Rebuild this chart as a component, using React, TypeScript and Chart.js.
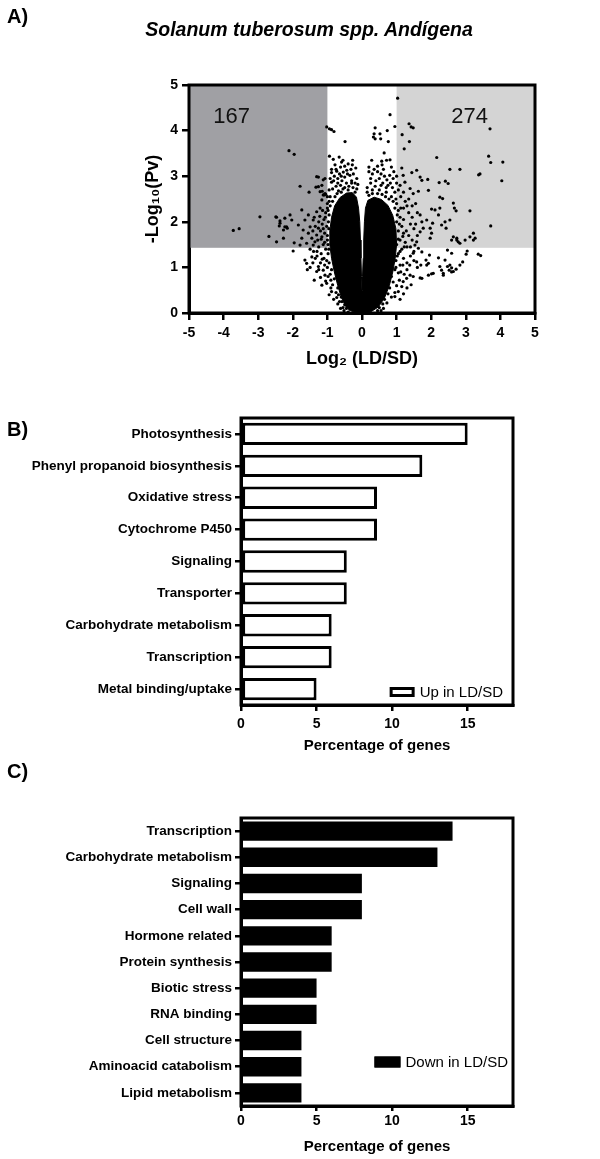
import { useEffect, useRef } from 'react';
import { Chart, registerables } from 'chart.js';

Chart.register(...registerables);

const FONT = '"Liberation Sans", Arial, Helvetica, sans-serif';

// ---------------- Panel A : volcano plot ----------------
const volcanoXTicks = [-5, -4, -3, -2, -1, 0, 1, 2, 3, 4, 5];
const volcanoYTicks = [0, 1, 2, 3, 4, 5];
const foldThreshold = 1;
const pvThreshold = 1.43;
const countLabels = ['167', '274'];
const countLabelX = [-3.77, 3.11];
const countLabelY = [4.31, 4.31];

// outline of the saturated (solid black) centre of the point cloud
const coreOutline: [number, number][] = [
  [0, 0], [-0.28, 0.03], [-0.48, 0.15], [-0.6, 0.35], [-0.7, 0.6], [-0.8, 0.9], [-0.88, 1.2],
  [-0.93, 1.5], [-0.93, 1.8], [-0.88, 2.1], [-0.79, 2.35], [-0.64, 2.53], [-0.45, 2.63], [-0.28, 2.64],
  [-0.16, 2.54], [-0.1, 2.3], [-0.065, 2.0], [-0.045, 1.6], [-0.03, 1.2], [-0.015, 0.8], [0, 0.5],
  [0.015, 0.8], [0.035, 1.2], [0.05, 1.6], [0.07, 2.0], [0.1, 2.3], [0.17, 2.47], [0.35, 2.54],
  [0.56, 2.49], [0.75, 2.36], [0.89, 2.14], [0.98, 1.85], [1.0, 1.5], [0.96, 1.2], [0.89, 0.9],
  [0.79, 0.6], [0.65, 0.33], [0.47, 0.13], [0.26, 0.03], [0, 0],
];

// genes with negative fold change
const downGenes: [number, number][] = [
  [-1.02, 4.08], [-0.94, 4.04], [-0.88, 4.02], [-0.81, 3.98], [-0.49, 3.76], [-2.11, 3.56], [-1.96, 3.48],
  [-0.94, 3.44], [-0.66, 3.42], [-0.83, 3.37], [-0.59, 3.31], [-0.4, 3.27], [-0.27, 3.35], [-0.88, 3.15],
  [-0.88, 3.08], [-0.73, 3.11], [-0.54, 3.09], [-0.44, 3.13], [-0.18, 3.18], [-0.15, 2.95], [-1.26, 2.98],
  [-1.07, 2.95], [-1.79, 2.78], [-1.33, 2.76], [-1.16, 2.8], [-1.53, 2.65], [-1.15, 2.67], [-1.09, 2.59],
  [-0.88, 2.87], [-1.31, 2.99], [-1.26, 2.77], [-1.21, 2.66], [-1.12, 2.92], [-1.07, 2.62], [-1.12, 2.59],
  [-1.16, 2.48],
  [-0.8, 3.0], [-0.7, 2.95], [-0.6, 3.0], [-0.5, 2.98], [-0.35, 3.02], [-0.25, 3.05], [-0.2, 2.85],
  [-0.3, 2.9], [-0.45, 2.85], [-0.62, 2.8], [-0.75, 2.78], [-0.85, 2.72], [-0.95, 2.7], [-0.55, 2.72],
  [-0.4, 2.7], [-0.15, 2.72], [-0.68, 2.68], [-0.32, 3.15], [-0.62, 3.2], [-0.5, 3.22], [-0.78, 3.25],
  [-0.12, 2.82],
  [-3.72, 1.81], [-3.55, 1.85], [-2.95, 2.11], [-2.69, 1.68], [-2.49, 2.11], [-2.37, 2.02], [-2.23, 2.08],
  [-2.47, 1.56], [-2.27, 1.64], [-2.39, 1.91], [-2.23, 1.89], [-2.16, 1.86], [-2.08, 2.15], [-2.03, 2.04],
  [-1.96, 1.54], [-1.99, 1.36], [-1.74, 2.26], [-1.84, 1.93], [-1.7, 1.82], [-1.74, 1.64], [-1.79, 1.49],
  [-1.65, 2.04], [-1.55, 2.15], [-1.5, 1.89], [-1.41, 2.04], [-1.31, 2.22], [-1.26, 1.86], [-1.21, 2.3],
  [-1.55, 1.75], [-1.45, 1.64], [-1.36, 1.56], [-1.31, 1.71], [-1.16, 1.67], [-1.6, 1.53], [-1.41, 1.49],
  [-2.27, 1.82], [-2.18, 1.89], [-2.37, 1.97], [-2.47, 2.1],
  [-1.65, 1.16], [-1.6, 1.09], [-1.45, 1.23], [-1.26, 1.02], [-1.31, 0.91], [-1.16, 0.61], [-1.07, 0.83],
  [-0.88, 0.47], [-0.73, 0.34], [-0.9, 0.72], [-1.12, 0.94],
  [-1.0, 2.4], [-1.05, 2.2], [-1.1, 2.05], [-0.98, 2.25], [-1.02, 1.9], [-1.15, 1.95], [-1.2, 1.8],
  [-1.08, 1.75], [-1.0, 1.6], [-1.12, 1.5], [-1.25, 1.45], [-1.05, 1.4], [-0.98, 1.3], [-1.18, 1.3],
  [-1.3, 1.35], [-1.1, 1.2], [-0.95, 1.1], [-1.0, 1.0], [-0.88, 0.95], [-0.92, 0.85], [-0.8, 0.75],
  [-0.85, 0.62], [-0.7, 0.55], [-0.75, 0.45], [-0.6, 0.35], [-0.65, 0.25], [-0.5, 0.18], [-0.45, 0.1],
  [-0.55, 0.12], [-1.35, 1.2], [-1.2, 1.1], [-1.4, 1.35], [-1.5, 1.4], [-1.0, 2.55], [-0.95, 2.45],
  [-0.92, 2.35], [-1.05, 2.6], [-0.97, 2.0], [-0.96, 1.85], [-1.0, 1.7],
  [-0.95, 0.4], [-0.82, 0.3], [-0.7, 0.2], [-0.62, 0.1], [-0.9, 0.55], [-1.02, 0.65], [-0.98, 0.8],
  [-1.08, 1.05], [-1.02, 1.15], [-1.15, 1.18], [-0.96, 1.4], [-1.08, 1.55], [-1.18, 1.62], [-0.98, 1.5],
  [-1.28, 1.6], [-1.12, 1.85], [-1.06, 2.1], [-1.14, 2.25], [-1.22, 2.12], [-0.95, 2.15], [-1.0, 2.3],
  [-0.92, 2.55], [-0.85, 2.45], [-0.78, 2.55], [-0.72, 2.62], [-0.6, 2.65], [-0.5, 2.75], [-0.38, 2.78],
  [-0.26, 2.75], [-0.2, 2.65], [-0.3, 2.85], [-0.58, 2.9], [-0.7, 2.85], [-0.82, 2.9], [-0.92, 2.95],
  [-0.65, 3.05], [-0.42, 3.05], [-0.28, 3.25], [-0.75, 3.15], [-0.55, 3.35], [-1.35, 1.9], [-1.42, 1.8],
  [-1.38, 2.1], [-1.25, 2.0], [-1.3, 1.25], [-1.42, 1.1], [-1.25, 0.95], [-1.2, 0.78], [-1.05, 0.7],
  [-1.5, 1.0], [-1.58, 0.95], [-1.38, 0.72], [-0.68, 0.4], [-0.58, 0.25], [-0.52, 0.05], [-0.4, 0.02],
  [-0.35, 0.08],
];

// genes with positive fold change
const upGenes: [number, number][] = [
  [1.03, 4.71], [0.81, 4.35], [0.38, 4.06], [0.35, 3.93], [0.33, 3.86], [0.38, 3.82], [0.52, 3.93],
  [0.54, 3.82], [0.73, 4.0], [0.76, 3.76], [0.95, 4.09], [1.16, 3.91], [1.36, 4.15], [1.42, 4.08],
  [1.48, 4.06], [1.37, 3.76], [1.22, 3.6], [0.64, 3.51], [0.71, 3.35], [0.81, 3.36], [0.57, 3.33],
  [2.16, 3.41], [3.7, 4.04], [3.66, 3.44], [3.72, 3.3], [4.07, 3.31], [4.04, 2.9], [3.41, 3.05],
  [3.37, 3.03], [2.54, 3.15], [2.83, 3.15], [1.15, 3.18], [1.44, 3.08], [1.58, 3.13], [1.68, 2.98],
  [1.73, 2.91], [1.9, 2.93], [2.23, 2.86], [2.41, 2.89], [2.49, 2.84], [1.19, 3.02], [1.24, 2.87],
  [1.39, 2.73], [1.48, 2.62], [1.63, 2.67], [1.92, 2.69], [2.25, 2.54], [2.33, 2.51],
  [0.2, 3.1], [0.3, 3.05], [0.45, 3.1], [0.55, 3.05], [0.65, 3.0], [0.8, 3.02], [0.9, 2.95],
  [0.25, 2.85], [0.4, 2.9], [0.6, 2.85], [0.75, 2.8], [0.88, 2.75], [0.95, 2.65], [0.15, 2.75],
  [0.3, 2.7], [0.5, 2.7], [0.7, 2.65], [0.85, 2.55], [1.0, 2.85], [1.05, 2.7], [0.2, 3.2],
  [0.62, 3.15], [0.45, 3.22], [0.92, 3.1], [1.0, 3.0],
  [3.72, 1.91], [3.12, 2.24], [3.27, 1.64], [3.22, 1.6], [3.04, 1.36], [3.01, 1.29], [3.36, 1.29],
  [3.43, 1.26], [2.83, 1.05], [2.74, 1.64], [2.78, 1.56], [2.98, 1.6], [2.59, 1.6], [2.64, 1.67],
  [2.67, 2.3], [2.72, 2.24], [2.54, 2.04], [2.4, 2.0], [2.3, 1.93], [2.43, 1.86], [2.64, 2.41],
  [2.25, 2.3], [2.21, 2.15], [2.47, 1.38], [2.59, 1.31], [2.4, 1.16], [2.47, 1.02], [2.52, 0.94],
  [2.59, 0.99], [2.72, 0.96], [2.3, 0.94], [2.35, 0.83], [2.01, 0.86], [1.92, 0.83], [1.87, 1.05],
  [1.92, 1.09], [2.21, 1.21], [1.68, 0.77], [1.97, 1.64], [2.01, 1.75], [1.97, 1.86], [2.04, 1.97],
  [2.11, 2.26], [2.01, 2.28], [1.87, 2.04], [1.77, 1.86], [1.68, 1.78], [1.73, 2.0], [1.58, 1.56],
  [1.53, 1.49], [1.63, 1.42], [1.73, 1.34], [1.48, 1.31], [1.39, 0.83], [1.29, 0.76], [1.48, 0.8],
  [1.19, 0.69], [1.15, 0.58], [1.05, 0.47], [0.95, 0.36], [1.95, 1.27], [1.85, 1.16], [1.58, 1.12],
  [1.7, 1.05], [3.12, 1.67], [2.74, 1.6], [2.83, 1.53], [3.22, 1.75], [2.91, 1.12],
  [2.54, 1.05], [2.59, 0.9], [2.64, 0.91], [2.35, 0.87], [2.06, 0.87], [2.25, 1.02], [1.73, 0.76],
  [1.0, 2.4], [1.05, 2.25], [1.1, 2.1], [1.0, 2.0], [1.15, 1.9], [1.05, 1.8], [1.2, 1.75], [1.1, 1.6],
  [1.25, 1.55], [1.0, 1.5], [1.15, 1.4], [1.3, 1.45], [1.05, 1.3], [1.2, 1.2], [0.98, 1.15], [1.1, 1.05],
  [0.95, 0.95], [1.05, 0.88], [0.85, 0.8], [0.9, 0.68], [0.8, 0.55], [0.75, 0.42], [0.65, 0.3],
  [0.6, 0.2], [0.5, 0.12], [0.45, 0.05], [1.35, 2.2], [1.3, 2.35], [1.25, 2.45], [1.4, 1.95],
  [1.45, 2.1], [1.5, 1.85], [1.35, 1.7], [1.4, 1.25], [1.3, 1.1], [1.12, 2.55], [1.2, 2.3], [0.98, 2.5],
  [1.6, 2.2], [1.55, 2.4],
  [0.95, 0.45], [0.85, 0.35], [0.72, 0.22], [0.62, 0.1], [0.55, 0.05], [1.0, 0.6], [1.08, 0.72],
  [1.12, 0.9], [0.98, 1.0], [1.18, 1.05], [1.02, 1.25], [1.1, 1.35], [1.22, 1.45], [1.05, 1.62],
  [1.18, 1.68], [1.28, 1.8], [1.08, 1.95], [1.2, 2.05], [1.02, 2.15], [1.12, 2.3], [0.95, 2.3],
  [0.9, 2.45], [0.78, 2.5], [0.68, 2.55], [0.58, 2.6], [0.45, 2.62], [0.3, 2.62], [0.2, 2.58],
  [0.15, 2.65], [0.38, 2.78], [0.55, 2.8], [0.7, 2.75], [0.82, 2.85], [0.25, 2.95], [0.5, 2.95],
  [0.72, 2.92], [0.35, 3.15], [0.58, 3.25], [0.85, 3.2], [0.28, 3.35], [1.45, 1.6], [1.5, 1.35],
  [1.4, 1.45], [1.6, 1.7], [1.3, 0.95], [1.22, 0.85], [1.38, 1.05], [1.5, 1.15], [1.6, 1.0],
  [1.42, 0.62], [1.3, 0.55], [1.2, 0.42], [1.1, 0.3], [1.55, 1.95], [1.68, 2.15], [1.45, 2.35],
  [1.35, 2.5], [1.2, 2.65], [1.1, 2.8],
];

// ---------------- Panel B ----------------
const upCategories = [
  'Photosynthesis', 'Phenyl propanoid biosynthesis', 'Oxidative stress', 'Cytochrome P450',
  'Signaling', 'Transporter', 'Carbohydrate metabolism', 'Transcription', 'Metal binding/uptake',
];
const upPercent = [15, 12, 9, 9, 7, 7, 6, 6, 5];

// ---------------- Panel C ----------------
const downCategories = [
  'Transcription', 'Carbohydrate metabolism', 'Signaling', 'Cell wall', 'Hormone related',
  'Protein synthesis', 'Biotic stress', 'RNA binding', 'Cell structure', 'Aminoacid catabolism',
  'Lipid metabolism',
];
const downPercent = [14, 13, 8, 8, 6, 6, 5, 5, 4, 4, 4];

const percentTicks = [0, 5, 10, 15];
const percentMax = 18;

// ---------------- plugins ----------------
const makeFramePlugin = (w: number) => ({
  id: 'frame',
  afterDatasetsDraw(chart: any) {
    const { ctx, chartArea } = chart;
    const { left, top, right, bottom } = chartArea;
    ctx.save();
    ctx.strokeStyle = '#000';
    ctx.lineWidth = w;
    ctx.strokeRect(left, top, right - left, bottom - top);
    ctx.restore();
  },
});

const shadePlugin = {
  id: 'shade',
  beforeDatasetsDraw(chart: any) {
    const { ctx } = chart;
    const x = chart.scales.x;
    const y = chart.scales.y;
    const yTop = y.getPixelForValue(volcanoYTicks[volcanoYTicks.length - 1]);
    const yThr = y.getPixelForValue(pvThreshold);
    const xMin = x.getPixelForValue(volcanoXTicks[0]);
    const xMax = x.getPixelForValue(volcanoXTicks[volcanoXTicks.length - 1]);
    const xNeg = x.getPixelForValue(-foldThreshold);
    const xPos = x.getPixelForValue(foldThreshold);
    ctx.save();
    ctx.fillStyle = '#a0a0a4';
    ctx.fillRect(xMin, yTop, xNeg - xMin, yThr - yTop);
    ctx.fillStyle = '#d4d4d4';
    ctx.fillRect(xPos, yTop, xMax - xPos, yThr - yTop);
    ctx.fillStyle = '#111';
    ctx.font = `22px ${FONT}`;
    ctx.textAlign = 'center';
    ctx.textBaseline = 'middle';
    countLabels.forEach((t, i) => {
      ctx.fillText(t, x.getPixelForValue(countLabelX[i]), y.getPixelForValue(countLabelY[i]));
    });
    ctx.restore();
  },
};

const makeLegendPlugin = (o: { fill: string; rightInset: number; bottomInset: number; boxW: number; boxH: number; gap: number }) => ({
  id: 'insideLegend',
  afterDatasetsDraw(chart: any) {
    const { ctx, chartArea } = chart;
    const label = chart.data.datasets[0].label;
    ctx.save();
    ctx.font = `15px ${FONT}`;
    const tw = ctx.measureText(label).width;
    const cy = chartArea.bottom - o.bottomInset;
    const tx = chartArea.right - o.rightInset - tw;
    ctx.fillStyle = '#000';
    ctx.textAlign = 'left';
    ctx.textBaseline = 'middle';
    ctx.fillText(label, tx, cy + 1);
    const bx = tx - o.gap - o.boxW;
    const by = cy - o.boxH / 2;
    ctx.fillStyle = o.fill;
    ctx.fillRect(bx, by, o.boxW, o.boxH);
    ctx.strokeStyle = '#000';
    ctx.lineWidth = 3;
    ctx.strokeRect(bx + 1.5, by + 1.5, o.boxW - 3, o.boxH - 3);
    ctx.restore();
  },
});

const tickFont = (size: number) => ({ family: FONT, size, weight: 'bold' as const });

// ---------------- chart configs ----------------
const volcanoConfig = (): any => ({
  type: 'scatter',
  data: {
    datasets: [
      {
        type: 'line',
        label: 'core',
        data: coreOutline.map(([x, y]) => ({ x, y })),
        fill: 'shape',
        backgroundColor: '#000',
        borderColor: '#000',
        borderWidth: 1,
        pointRadius: 0,
        tension: 0,
        order: 2,
      },
      {
        label: 'down',
        data: downGenes.map(([x, y]) => ({ x, y })),
        backgroundColor: '#000',
        borderWidth: 0,
        pointRadius: 1.6,
        order: 1,
      },
      {
        label: 'up',
        data: upGenes.map(([x, y]) => ({ x, y })),
        backgroundColor: '#000',
        borderWidth: 0,
        pointRadius: 1.6,
        order: 1,
      },
    ],
  },
  options: {
    responsive: false,
    animation: false,
    events: [],
    layout: { padding: { top: 85, right: 65, left: 0, bottom: 0 } },
    plugins: { legend: { display: false }, tooltip: { enabled: false } },
    scales: {
      x: {
        type: 'linear',
        min: volcanoXTicks[0],
        max: volcanoXTicks[volcanoXTicks.length - 1],
        afterBuildTicks: (s: any) => { s.ticks = volcanoXTicks.map((v) => ({ value: v })); },
        afterFit: (s: any) => { s.height = 77; },
        ticks: { font: tickFont(14), color: '#000', padding: 5, maxRotation: 0 },
        grid: { drawOnChartArea: false, drawTicks: true, tickLength: 7, lineWidth: 2.5, color: '#000' },
        border: { display: true, width: 3, color: '#000' },
        title: { display: true, text: 'Log₂ (LD/SD)', color: '#000', font: tickFont(18), padding: { top: 0, bottom: 20 } },
      },
      y: {
        type: 'linear',
        min: volcanoYTicks[0],
        max: volcanoYTicks[volcanoYTicks.length - 1],
        afterBuildTicks: (s: any) => { s.ticks = volcanoYTicks.map((v) => ({ value: v })); },
        afterFit: (s: any) => { s.width = 189; },
        ticks: { font: tickFont(14), color: '#000', padding: 4 },
        grid: { drawOnChartArea: false, drawTicks: true, tickLength: 7, lineWidth: 2.5, color: '#000' },
        border: { display: true, width: 3, color: '#000' },
        title: { display: true, text: '-Log₁₀(Pv)', color: '#000', font: tickFont(18), padding: { top: 142, bottom: 0 } },
      },
    },
  },
  plugins: [shadePlugin, makeFramePlugin(3)],
});

const barConfig = (p: {
  labels: string[]; values: number[]; label: string; fill: string; borderWidth: number;
  barPct: number; xHeight: number; tickPad: number; tickLen: number; titlePad: number;
  legend: { rightInset: number; bottomInset: number; boxW: number; boxH: number; gap: number };
}): any => ({
  type: 'bar',
  data: {
    labels: p.labels,
    datasets: [
      {
        label: p.label,
        data: p.values,
        backgroundColor: p.fill,
        borderColor: '#000',
        borderWidth: p.borderWidth,
        borderSkipped: false,
        barPercentage: p.barPct,
        categoryPercentage: 1,
      },
    ],
  },
  options: {
    indexAxis: 'y',
    responsive: false,
    animation: false,
    events: [],
    layout: { padding: { top: 38, right: 87, left: 0, bottom: 0 } },
    plugins: { legend: { display: false }, tooltip: { enabled: false } },
    scales: {
      x: {
        type: 'linear',
        min: 0,
        max: percentMax,
        afterBuildTicks: (s: any) => { s.ticks = percentTicks.map((v) => ({ value: v })); },
        afterFit: (s: any) => { s.height = p.xHeight; },
        ticks: { font: tickFont(14), color: '#000', padding: p.tickPad, maxRotation: 0 },
        grid: { drawOnChartArea: false, drawTicks: true, tickLength: p.tickLen, lineWidth: 2.5, color: '#000' },
        border: { display: true, width: 3, color: '#000' },
        title: { display: true, text: 'Percentage of genes', color: '#000', font: tickFont(15), padding: { top: 0, bottom: p.titlePad } },
      },
      y: {
        type: 'category',
        afterFit: (s: any) => { s.width = 241; },
        ticks: { font: tickFont(13.5), color: '#000', padding: 3, autoSkip: false },
        grid: { offset: false, drawOnChartArea: false, drawTicks: true, tickLength: 6, lineWidth: 2.5, color: '#000' },
        border: { display: true, width: 3, color: '#000' },
      },
    },
  },
  plugins: [makeFramePlugin(3), makeLegendPlugin({ fill: p.fill, ...p.legend })],
});

function ChartCanvas({ top, height, build }: { top: number; height: number; build: () => any }) {
  const ref = useRef<HTMLCanvasElement>(null);
  useEffect(() => {
    const chart = new Chart(ref.current as HTMLCanvasElement, build());
    return () => chart.destroy();
  }, []);
  return (
    <canvas
      ref={ref}
      width={600}
      height={height}
      style={{ position: 'absolute', left: 0, top, width: 600, height, display: 'block' }}
    />
  );
}

const letterStyle = (top: number): any => ({
  position: 'absolute',
  left: 7,
  top,
  font: `bold 20px ${FONT}`,
  lineHeight: '20px',
  color: '#000',
});

export default function App() {
  return (
    <div style={{ position: 'absolute', left: 0, top: 0, width: 600, height: 1159, background: '#fff', overflow: 'hidden' }}>
      <ChartCanvas top={0} height={390} build={volcanoConfig} />
      <ChartCanvas
        top={380}
        height={390}
        build={() => barConfig({
          labels: upCategories, values: upPercent, label: 'Up in LD/SD', fill: '#fff', borderWidth: 3,
          barPct: 0.7, xHeight: 65, tickPad: 5, tickLen: 6, titlePad: 15.5,
          legend: { rightInset: 10, bottomInset: 13, boxW: 25, boxH: 10, gap: 5 },
        })}
      />
      <ChartCanvas
        top={780}
        height={379}
        build={() => barConfig({
          labels: downCategories, values: downPercent, label: 'Down in LD/SD', fill: '#000', borderWidth: 0,
          barPct: 0.74, xHeight: 53, tickPad: 2, tickLen: 5, titlePad: 3.5,
          legend: { rightInset: 5, bottomInset: 44, boxW: 26, boxH: 11, gap: 5 },
        })}
      />
      <div style={letterStyle(6)}>A)</div>
      <div style={letterStyle(419)}>B)</div>
      <div style={letterStyle(761)}>C)</div>
      <div
        style={{
          position: 'absolute', left: 109, width: 400, top: 19, textAlign: 'center',
          font: `italic bold 19.5px ${FONT}`, lineHeight: '20px', color: '#000', whiteSpace: 'nowrap',
        }}
      >
        Solanum tuberosum spp. Andígena
      </div>
    </div>
  );
}
